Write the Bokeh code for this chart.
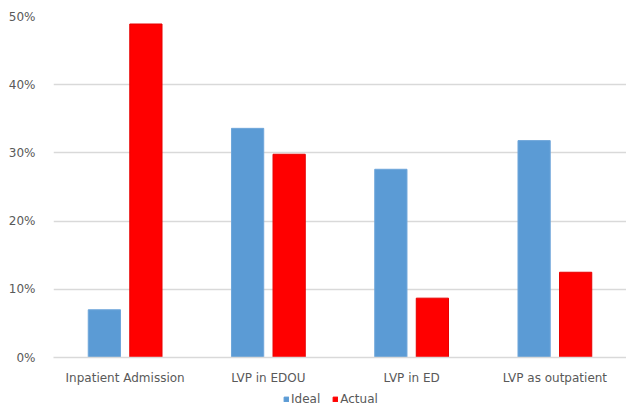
from bokeh.plotting import figure
from bokeh.layouts import column
from bokeh.models import ColumnDataSource, NumeralTickFormatter, Legend, LegendItem, FixedTicker
from bokeh.transform import dodge
from bokeh.embed import file_html
from bokeh.resources import INLINE

categories = ["Inpatient Admission", "LVP in EDOU", "LVP in ED", "LVP as outpatient"]
ideal = [0.07, 0.336, 0.276, 0.318]
actual = [0.489, 0.298, 0.087, 0.125]
y_ticks = [0, 0.1, 0.2, 0.3, 0.4, 0.5]
series = ["Ideal", "Actual"]
colors = ["#5B9BD5", "#FF0000"]

src = ColumnDataSource(dict(cat=categories, ideal=ideal, actual=actual))

FONT = "DejaVu Sans"
TXT = "#595959"
W = 626

p = figure(x_range=categories, y_range=(0, 0.5), output_backend="svg",
           toolbar_location=None, width=W, height=388,
           min_border_left=53, min_border_right=0, min_border_top=16, min_border_bottom=31)

p.vbar(x=dodge("cat", -0.145, range=p.x_range), top="ideal", width=0.225,
       source=src, fill_color=colors[0], line_color="#6FA6DA")
p.vbar(x=dodge("cat", 0.145, range=p.x_range), top="actual", width=0.225,
       source=src, fill_color=colors[1], line_color="#E60000")

p.outline_line_color = None
p.xgrid.grid_line_color = None
p.ygrid.grid_line_color = "#D9D9D9"
p.ygrid.grid_line_width = 1.3
p.ygrid.ticker = FixedTicker(ticks=y_ticks)

p.yaxis.ticker = FixedTicker(ticks=y_ticks)
p.yaxis.formatter = NumeralTickFormatter(format="0%")
p.yaxis.axis_line_color = None
p.yaxis.major_tick_line_color = None
p.yaxis.minor_tick_line_color = None
p.yaxis.major_label_standoff = 12
p.yaxis.major_label_text_font = FONT
p.yaxis.major_label_text_font_size = "12px"
p.yaxis.major_label_text_color = TXT

p.xaxis.axis_line_color = "#D9D9D9"
p.xaxis.axis_line_width = 1.3
p.xaxis.major_tick_line_color = None
p.xaxis.minor_tick_line_color = None
p.xaxis.major_label_standoff = 7
p.xaxis.major_label_text_font = FONT
p.xaxis.major_label_text_font_size = "12px"
p.xaxis.major_label_text_color = TXT
p.x_range.range_padding = 0.0

# legend strip below the chart
lg = figure(x_range=categories, y_range=(10, 11), output_backend="svg",
            toolbar_location=None, width=W, height=18,
            x_axis_location=None, y_axis_location=None,
            min_border_left=0, min_border_right=0, min_border_top=0, min_border_bottom=0)
lg.outline_line_color = None
lg.grid.grid_line_color = None
l1 = lg.vbar(x="cat", top="ideal", width=0.2, source=src, color=colors[0])
l2 = lg.vbar(x="cat", top="actual", width=0.2, source=src, color=colors[1])
legend = Legend(items=[LegendItem(label=series[0], renderers=[l1]),
                       LegendItem(label=series[1], renderers=[l2])],
                orientation="horizontal", location=(230, 0),
                glyph_width=6, glyph_height=6, spacing=12, label_standoff=2,
                label_height=12,
                label_text_font=FONT, label_text_font_size="12px", label_text_color=TXT,
                border_line_color=None, background_fill_alpha=0,
                padding=0, margin=0)
lg.add_layout(legend, "center")

layout = column(p, lg, spacing=0)
open("out.html", "w").write(file_html(layout, INLINE))
